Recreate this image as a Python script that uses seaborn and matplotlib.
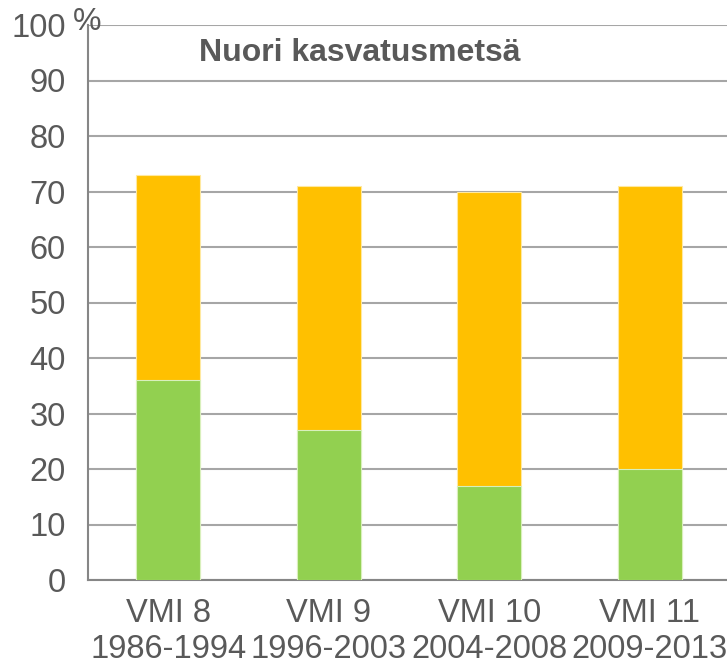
import numpy as np
import pandas as pd
import seaborn as sns
import matplotlib.pyplot as plt
from matplotlib.ticker import FixedLocator

# data
categories = ["VMI 8\n1986-1994", "VMI 9\n1996-2003", "VMI 10\n2004-2008", "VMI 11\n2009-2013"]
green_vals = [36, 27, 17, 20]
orange_vals = [37, 44, 53, 51]
y_ticks = [0, 10, 20, 30, 40, 50, 60, 70, 80, 90, 100]

df = pd.DataFrame({"cat": categories, "green": green_vals, "orange": orange_vals})
df["total"] = df["green"] + df["orange"]

sns.set_style("white")
plt.rcParams["font.family"] = ["Liberation Sans", "DejaVu Sans"]

text_col = "#595959"
grid_col = "#a6a6a6"
axis_col = "#868686"

fig = plt.figure(figsize=(7.27, 6.71), dpi=100)
ax = fig.add_axes([88 / 727, (671 - 580) / 671, 1 - 88 / 727, 555 / 671])

sns.barplot(data=df, x="cat", y="total", color="#FFC000", width=0.4,
            saturation=1, ax=ax, zorder=3, edgecolor="#FFE9A0", linewidth=0.8)
sns.barplot(data=df, x="cat", y="green", color="#92D050", width=0.4,
            saturation=1, ax=ax, zorder=4, edgecolor="#D8F0BC", linewidth=0.8)

ax.set_ylim(0, 100)
ax.set_xlim(-0.5, 3.48)
ax.set_yticks(y_ticks)
ax.set_xlabel("")
ax.set_ylabel("")

ax.yaxis.grid(True, color=grid_col, linewidth=1.5, zorder=0)
ax.set_axisbelow(True)
for s in ["top", "right"]:
    ax.spines[s].set_visible(False)
for s in ["left", "bottom"]:
    ax.spines[s].set_color(axis_col)
    ax.spines[s].set_linewidth(1.5)

ax.tick_params(axis="y", length=10, width=1.5, color=axis_col, pad=6,
               labelsize=23.5, labelcolor=text_col)
ax.tick_params(axis="x", which="major", length=0, pad=13,
               labelsize=23.5, labelcolor=text_col)
ax.xaxis.set_minor_locator(FixedLocator([-0.5, 0.5, 1.5, 2.5, 3.5]))
ax.tick_params(axis="x", which="minor", length=9, width=1.5, color=axis_col)

ax.text(-0.024, 1.005, "%", transform=ax.transAxes, ha="left", va="center",
        fontsize=23, color=text_col)
ax.text(0.426, 0.95, "Nuori kasvatusmetsä", transform=ax.transAxes,
        ha="center", va="center", fontsize=23, fontweight="bold", color=text_col)

fig.savefig("out.png", dpi=100)
